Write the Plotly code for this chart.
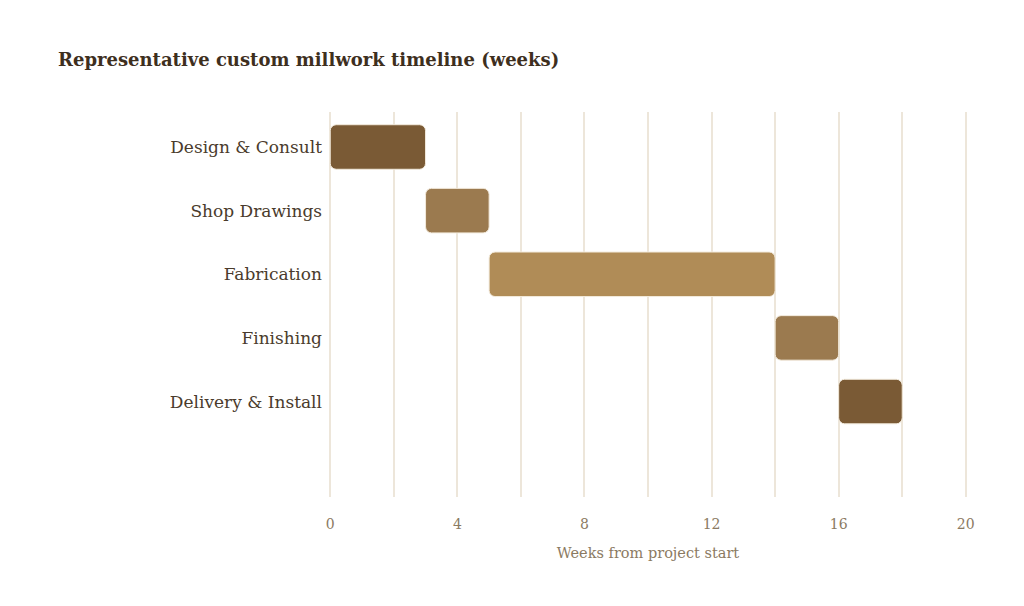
import plotly.graph_objects as go

phases = ["Design & Consult", "Shop Drawings", "Fabrication", "Finishing", "Delivery & Install"]
start_week = [0, 3, 5, 14, 16]
duration_weeks = [3, 2, 9, 2, 2]
bar_colors = ["#7A5A35", "#9B7A4F", "#B08C57", "#9B7A4F", "#7A5A35"]
x_ticks = [0, 4, 8, 12, 16, 20]

FONT = "Georgia, 'DejaVu Serif', serif"

fig = go.Figure()
fig.add_trace(go.Bar(
    y=phases,
    x=duration_weeks,
    base=start_week,
    orientation="h",
    width=0.7,
    marker=dict(color=bar_colors, line=dict(color="#F3EBDD", width=1)),
    hovertemplate="%{y}: week %{base} to %{x}<extra></extra>",
))

fig.update_layout(
    width=1024, height=606,
    paper_bgcolor="white", plot_bgcolor="white",
    margin=dict(l=328, r=56, t=112, b=109),
    barcornerradius=6,
    showlegend=False,
    title=dict(
        text="<b>Representative custom millwork timeline (weeks)</b>",
        x=58 / 1024, xanchor="left", y=1 - 60 / 606, yanchor="middle",
        font=dict(family=FONT, size=18, color="#3E2F1E"),
    ),
    font=dict(family=FONT),
)

fig.update_xaxes(
    range=[-0.07, 20.07],
    tickvals=x_ticks,
    showgrid=True, gridcolor="#EDE6DA", gridwidth=1.5,
    minor=dict(dtick=2, showgrid=True, gridcolor="#EDE6DA", gridwidth=1.5),
    zeroline=False, showline=False,
    ticks="", ticklabelstandoff=17,
    tickfont=dict(family=FONT, size=14, color="#8B7A62"),
    title=dict(text="Weeks from project start", standoff=16,
               font=dict(family=FONT, size=14.5, color="#8B7A62")),
)

fig.update_yaxes(
    categoryorder="array", categoryarray=phases,
    range=[5.5, -0.55],
    showgrid=False, zeroline=False, showline=False,
    ticks="", ticklabelstandoff=5,
    tickfont=dict(family=FONT, size=17, color="#4A3B2C"),
)

fig.write_html("out.html")
